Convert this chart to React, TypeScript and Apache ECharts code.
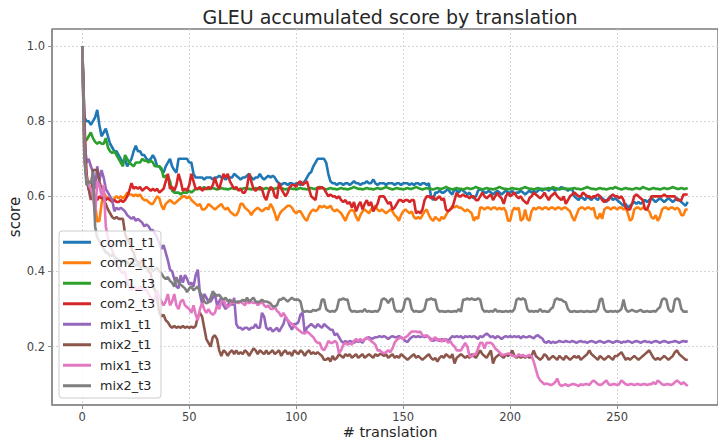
import React, { useEffect, useRef } from "react";
import * as echarts from "echarts";

const seriesNames = ["com1_t1", "com2_t1", "com1_t3", "com2_t3", "mix1_t1", "mix2_t1", "mix1_t3", "mix2_t3"];
const colors = ["#1f77b4", "#ff7f0e", "#2ca02c", "#d62728", "#9467bd", "#8c564b", "#e377c2", "#7f7f7f"];
const xTicks = [0, 50, 100, 150, 200, 250];
const yTicks = [0.2, 0.4, 0.6, 0.8, 1.0];

const com1_t1 = [
  1.00, 0.81, 0.80, 0.80, 0.79, 0.80, 0.81, 0.83, 0.79, 0.76,
  0.77, 0.78, 0.76, 0.74, 0.73, 0.72, 0.72, 0.71, 0.70, 0.69,
  0.70, 0.68, 0.69, 0.70, 0.72, 0.735, 0.72, 0.72, 0.71, 0.71,
  0.70, 0.695, 0.70, 0.71, 0.70, 0.68, 0.68, 0.67, 0.663, 0.68,
  0.69, 0.70, 0.68, 0.67, 0.663, 0.70, 0.70, 0.70, 0.70, 0.70,
  0.69, 0.69, 0.66, 0.65, 0.65, 0.65, 0.65, 0.645, 0.65, 0.65,
  0.65, 0.645, 0.65, 0.65, 0.655, 0.65, 0.65, 0.645, 0.65, 0.65,
  0.65, 0.66, 0.655, 0.65, 0.645, 0.65, 0.65, 0.655, 0.66, 0.65,
  0.645, 0.65, 0.65, 0.66, 0.65, 0.645, 0.65, 0.655, 0.65, 0.655,
  0.65, 0.64, 0.635, 0.63, 0.635, 0.635, 0.63, 0.635, 0.635, 0.63,
  0.635, 0.635, 0.63, 0.635, 0.64, 0.65, 0.66, 0.665, 0.68, 0.69,
  0.70, 0.70, 0.70, 0.70, 0.69, 0.66, 0.64, 0.635, 0.635, 0.63,
  0.635, 0.635, 0.63, 0.635, 0.635, 0.63, 0.635, 0.64, 0.635, 0.635,
  0.63, 0.635, 0.635, 0.64, 0.635, 0.635, 0.645, 0.635, 0.63, 0.635,
  0.635, 0.635, 0.63, 0.635, 0.635, 0.635, 0.63, 0.635, 0.635, 0.63,
  0.635, 0.635, 0.635, 0.63, 0.635, 0.63, 0.635, 0.635, 0.63, 0.635,
  0.635, 0.63, 0.635, 0.60, 0.59, 0.61, 0.61, 0.615, 0.61, 0.61,
  0.615, 0.62, 0.61, 0.605, 0.62, 0.615, 0.61, 0.62, 0.615, 0.61,
  0.605, 0.61, 0.60, 0.595, 0.60, 0.615, 0.62, 0.615, 0.61, 0.61,
  0.615, 0.61, 0.605, 0.61, 0.615, 0.61, 0.605, 0.61, 0.615, 0.61,
  0.61, 0.615, 0.605, 0.61, 0.61, 0.615, 0.61, 0.605, 0.61, 0.615,
  0.61, 0.615, 0.61, 0.615, 0.62, 0.615, 0.62, 0.62, 0.615, 0.62,
  0.62, 0.615, 0.62, 0.62, 0.625, 0.62, 0.62, 0.615, 0.62, 0.62,
  0.60, 0.595, 0.59, 0.60, 0.595, 0.59, 0.60, 0.595, 0.59, 0.60,
  0.595, 0.59, 0.60, 0.595, 0.59, 0.585, 0.595, 0.60, 0.59, 0.595,
  0.59, 0.585, 0.58, 0.575, 0.58, 0.57, 0.575, 0.58, 0.585, 0.58,
  0.585, 0.58, 0.585, 0.59, 0.585, 0.59, 0.595, 0.59, 0.585, 0.59,
  0.595, 0.59, 0.585, 0.59, 0.595, 0.59, 0.585, 0.59, 0.595, 0.59,
  0.585, 0.58, 0.575, 0.585,
];

const com2_t1 = [
  1.00, 0.70, 0.65, 0.62, 0.61, 0.60, 0.58, 0.533, 0.535, 0.58,
  0.61, 0.60, 0.595, 0.59, 0.59, 0.595, 0.60, 0.595, 0.60, 0.595,
  0.60, 0.61, 0.605, 0.605, 0.60, 0.605, 0.60, 0.605, 0.595, 0.59,
  0.59, 0.585, 0.58, 0.58, 0.59, 0.60, 0.595, 0.575, 0.565, 0.58,
  0.585, 0.59, 0.585, 0.58, 0.585, 0.59, 0.595, 0.60, 0.60, 0.595,
  0.60, 0.59, 0.585, 0.58, 0.575, 0.58, 0.565, 0.565, 0.57, 0.58,
  0.575, 0.57, 0.565, 0.57, 0.575, 0.58, 0.57, 0.565, 0.57, 0.56,
  0.555, 0.55, 0.55, 0.56, 0.58, 0.58, 0.57, 0.565, 0.56, 0.55,
  0.56, 0.565, 0.57, 0.565, 0.56, 0.565, 0.57, 0.565, 0.58, 0.57,
  0.555, 0.535, 0.55, 0.56, 0.565, 0.57, 0.575, 0.575, 0.57, 0.56,
  0.555, 0.56, 0.56, 0.55, 0.54, 0.535, 0.55, 0.56, 0.565, 0.56,
  0.565, 0.575, 0.57, 0.575, 0.57, 0.57, 0.575, 0.565, 0.56, 0.565,
  0.56, 0.555, 0.545, 0.535, 0.55, 0.56, 0.565, 0.56, 0.545, 0.535,
  0.55, 0.56, 0.565, 0.56, 0.555, 0.565, 0.57, 0.575, 0.565, 0.56,
  0.565, 0.56, 0.555, 0.56, 0.565, 0.56, 0.55, 0.545, 0.535, 0.55,
  0.56, 0.565, 0.56, 0.555, 0.56, 0.545, 0.54, 0.545, 0.54, 0.55,
  0.56, 0.565, 0.55, 0.54, 0.535, 0.545, 0.54, 0.535, 0.545, 0.54,
  0.55, 0.56, 0.565, 0.575, 0.57, 0.575, 0.57, 0.57, 0.565, 0.56,
  0.565, 0.56, 0.555, 0.535, 0.545, 0.54, 0.57, 0.57, 0.565, 0.57,
  0.57, 0.565, 0.57, 0.57, 0.565, 0.57, 0.565, 0.57, 0.56, 0.535,
  0.535, 0.56, 0.57, 0.565, 0.57, 0.535, 0.54, 0.565, 0.54, 0.535,
  0.56, 0.57, 0.565, 0.57, 0.57, 0.565, 0.57, 0.57, 0.565, 0.57,
  0.57, 0.565, 0.57, 0.57, 0.565, 0.57, 0.57, 0.565, 0.56, 0.545,
  0.535, 0.55, 0.565, 0.57, 0.57, 0.565, 0.57, 0.57, 0.565, 0.57,
  0.545, 0.54, 0.555, 0.54, 0.565, 0.57, 0.57, 0.565, 0.57, 0.57,
  0.565, 0.57, 0.57, 0.565, 0.57, 0.555, 0.535, 0.54, 0.565, 0.57,
  0.57, 0.565, 0.57, 0.57, 0.565, 0.56, 0.545, 0.54, 0.55, 0.535,
  0.545, 0.565, 0.57, 0.57, 0.565, 0.57, 0.57, 0.565, 0.57, 0.565,
  0.55, 0.55, 0.565, 0.565,
];

const com1_t3 = [
  1.00, 0.75, 0.75, 0.76, 0.77, 0.755, 0.745, 0.74, 0.745, 0.74,
  0.74, 0.755, 0.73, 0.72, 0.715, 0.72, 0.71, 0.70, 0.69, 0.68,
  0.71, 0.70, 0.69, 0.685, 0.68, 0.69, 0.69, 0.69, 0.70, 0.695,
  0.695, 0.69, 0.695, 0.69, 0.68, 0.68, 0.68, 0.675, 0.65, 0.655,
  0.655, 0.64, 0.615, 0.61, 0.61, 0.61, 0.605, 0.61, 0.61, 0.61,
  0.615, 0.61, 0.615, 0.62, 0.62, 0.62, 0.62, 0.625, 0.62, 0.62,
  0.62, 0.622, 0.62, 0.618, 0.62, 0.622, 0.62, 0.62, 0.618, 0.62,
  0.622, 0.62, 0.62, 0.618, 0.62, 0.62, 0.622, 0.62, 0.62, 0.618,
  0.62, 0.622, 0.62, 0.618, 0.62, 0.62, 0.622, 0.62, 0.618, 0.62,
  0.62, 0.622, 0.625, 0.622, 0.62, 0.618, 0.62, 0.622, 0.62, 0.62,
  0.618, 0.62, 0.622, 0.62, 0.62, 0.618, 0.62, 0.622, 0.62, 0.62,
  0.622, 0.625, 0.622, 0.62, 0.618, 0.62, 0.622, 0.62, 0.62, 0.618,
  0.62, 0.622, 0.62, 0.62, 0.618, 0.62, 0.622, 0.625, 0.622, 0.62,
  0.62, 0.618, 0.62, 0.622, 0.62, 0.62, 0.618, 0.62, 0.622, 0.62,
  0.62, 0.622, 0.625, 0.622, 0.62, 0.618, 0.62, 0.622, 0.62, 0.62,
  0.618, 0.62, 0.622, 0.62, 0.62, 0.622, 0.625, 0.622, 0.62, 0.618,
  0.62, 0.622, 0.62, 0.62, 0.618, 0.62, 0.622, 0.62, 0.62, 0.622,
  0.625, 0.622, 0.62, 0.618, 0.62, 0.622, 0.62, 0.62, 0.618, 0.62,
  0.622, 0.62, 0.62, 0.622, 0.625, 0.622, 0.62, 0.618, 0.62, 0.622,
  0.62, 0.62, 0.618, 0.62, 0.622, 0.625, 0.622, 0.62, 0.62, 0.618,
  0.62, 0.622, 0.62, 0.62, 0.618, 0.62, 0.622, 0.625, 0.622, 0.62,
  0.62, 0.618, 0.62, 0.622, 0.62, 0.62, 0.618, 0.62, 0.622, 0.62,
  0.625, 0.622, 0.62, 0.618, 0.62, 0.622, 0.62, 0.62, 0.618, 0.62,
  0.622, 0.62, 0.62, 0.618, 0.62, 0.622, 0.625, 0.622, 0.62, 0.62,
  0.618, 0.62, 0.622, 0.62, 0.62, 0.618, 0.62, 0.622, 0.62, 0.625,
  0.622, 0.62, 0.618, 0.62, 0.622, 0.62, 0.62, 0.618, 0.62, 0.622,
  0.62, 0.62, 0.625, 0.622, 0.62, 0.618, 0.62, 0.622, 0.62, 0.62,
  0.618, 0.62, 0.622, 0.62, 0.62, 0.622, 0.625, 0.622, 0.62, 0.62,
  0.622, 0.62, 0.62, 0.622,
];

const com2_t3 = [
  1.00, 0.80, 0.66, 0.62, 0.60, 0.605, 0.60, 0.59, 0.60, 0.595,
  0.60, 0.59, 0.595, 0.59, 0.585, 0.59, 0.585, 0.585, 0.59, 0.585,
  0.59, 0.60, 0.615, 0.635, 0.62, 0.625, 0.62, 0.625, 0.615, 0.62,
  0.625, 0.62, 0.615, 0.62, 0.615, 0.62, 0.61, 0.615, 0.62, 0.64,
  0.66, 0.62, 0.625, 0.615, 0.63, 0.66, 0.64, 0.615, 0.62, 0.615,
  0.63, 0.66, 0.64, 0.62, 0.62, 0.625, 0.615, 0.62, 0.62, 0.625,
  0.62, 0.63, 0.65, 0.63, 0.62, 0.64, 0.66, 0.65, 0.66, 0.64,
  0.63, 0.62, 0.625, 0.615, 0.62, 0.61, 0.61, 0.625, 0.66, 0.64,
  0.62, 0.615, 0.62, 0.625, 0.62, 0.60, 0.59, 0.61, 0.625, 0.62,
  0.60, 0.595, 0.636, 0.62, 0.61, 0.60, 0.61, 0.625, 0.63, 0.63,
  0.625, 0.636, 0.64, 0.63, 0.636, 0.64, 0.62, 0.60, 0.595, 0.59,
  0.625, 0.62, 0.625, 0.62, 0.61, 0.60, 0.605, 0.60, 0.60, 0.595,
  0.60, 0.59, 0.585, 0.59, 0.58, 0.585, 0.57, 0.585, 0.56, 0.575,
  0.585, 0.565, 0.58, 0.59, 0.575, 0.585, 0.56, 0.57, 0.58, 0.60,
  0.60, 0.60, 0.59, 0.58, 0.585, 0.565, 0.57, 0.58, 0.59, 0.59,
  0.585, 0.59, 0.59, 0.585, 0.59, 0.59, 0.555, 0.56, 0.555, 0.565,
  0.59, 0.60, 0.60, 0.595, 0.60, 0.59, 0.595, 0.60, 0.59, 0.595,
  0.565, 0.56, 0.565, 0.57, 0.59, 0.61, 0.60, 0.60, 0.605, 0.60,
  0.60, 0.595, 0.60, 0.60, 0.59, 0.59, 0.60, 0.61, 0.60, 0.595,
  0.60, 0.605, 0.59, 0.60, 0.61, 0.60, 0.595, 0.58, 0.60, 0.61,
  0.60, 0.605, 0.61, 0.60, 0.595, 0.60, 0.59, 0.585, 0.58, 0.595,
  0.60, 0.61, 0.605, 0.60, 0.595, 0.60, 0.61, 0.60, 0.59, 0.60,
  0.605, 0.61, 0.60, 0.595, 0.59, 0.60, 0.58, 0.59, 0.60, 0.605,
  0.61, 0.605, 0.60, 0.60, 0.61, 0.605, 0.60, 0.60, 0.595, 0.60,
  0.60, 0.605, 0.60, 0.59, 0.585, 0.59, 0.59, 0.60, 0.605, 0.60,
  0.60, 0.595, 0.60, 0.59, 0.57, 0.565, 0.565, 0.58, 0.60, 0.605,
  0.60, 0.595, 0.59, 0.565, 0.565, 0.58, 0.60, 0.60, 0.60, 0.60,
  0.60, 0.60, 0.605, 0.60, 0.60, 0.60, 0.60, 0.60, 0.59, 0.59,
  0.59, 0.605, 0.605, 0.605,
];

const mix1_t1 = [
  1.00, 0.75, 0.69, 0.70, 0.68, 0.665, 0.62, 0.68, 0.64, 0.67,
  0.65, 0.62, 0.61, 0.60, 0.59, 0.56, 0.57, 0.565, 0.57, 0.565,
  0.56, 0.55, 0.545, 0.54, 0.545, 0.535, 0.54, 0.535, 0.53, 0.52,
  0.525, 0.52, 0.51, 0.51, 0.50, 0.49, 0.475, 0.46, 0.47, 0.45,
  0.43, 0.405, 0.40, 0.38, 0.36, 0.355, 0.39, 0.37, 0.39, 0.38,
  0.365, 0.37, 0.36, 0.39, 0.405, 0.34, 0.315, 0.34, 0.33, 0.32,
  0.32, 0.33, 0.34, 0.31, 0.32, 0.33, 0.31, 0.30, 0.31, 0.32,
  0.31, 0.33, 0.26, 0.25, 0.25, 0.245, 0.25, 0.25, 0.245, 0.25,
  0.25, 0.26, 0.25, 0.25, 0.29, 0.28, 0.25, 0.245, 0.25, 0.24,
  0.245, 0.25, 0.24, 0.25, 0.26, 0.28, 0.27, 0.255, 0.245, 0.26,
  0.26, 0.265, 0.285, 0.29, 0.236, 0.25, 0.255, 0.26, 0.255, 0.25,
  0.26, 0.255, 0.25, 0.26, 0.255, 0.25, 0.245, 0.245, 0.23, 0.235,
  0.225, 0.215, 0.21, 0.215, 0.21, 0.215, 0.213, 0.21, 0.215, 0.213,
  0.215, 0.21, 0.22, 0.222, 0.225, 0.22, 0.222, 0.225, 0.225, 0.228,
  0.225, 0.228, 0.225, 0.22, 0.225, 0.228, 0.225, 0.225, 0.228, 0.225,
  0.22, 0.215, 0.212, 0.22, 0.225, 0.228, 0.225, 0.228, 0.225, 0.228,
  0.225, 0.228, 0.225, 0.22, 0.215, 0.218, 0.22, 0.215, 0.22, 0.215,
  0.22, 0.215, 0.222, 0.228, 0.225, 0.228, 0.225, 0.228, 0.222, 0.228,
  0.225, 0.228, 0.225, 0.228, 0.225, 0.22, 0.228, 0.225, 0.23, 0.235,
  0.23, 0.225, 0.228, 0.222, 0.228, 0.225, 0.22, 0.225, 0.228, 0.225,
  0.228, 0.225, 0.228, 0.225, 0.228, 0.222, 0.228, 0.225, 0.225, 0.228,
  0.225, 0.222, 0.228, 0.23, 0.225, 0.222, 0.212, 0.21, 0.215, 0.209,
  0.213, 0.21, 0.212, 0.215, 0.213, 0.212, 0.215, 0.213, 0.212, 0.215,
  0.213, 0.21, 0.213, 0.215, 0.212, 0.213, 0.21, 0.213, 0.215, 0.213,
  0.21, 0.213, 0.215, 0.212, 0.21, 0.213, 0.215, 0.213, 0.21, 0.213,
  0.215, 0.213, 0.21, 0.213, 0.212, 0.215, 0.213, 0.21, 0.213, 0.215,
  0.213, 0.21, 0.213, 0.215, 0.212, 0.213, 0.21, 0.213, 0.215, 0.213,
  0.21, 0.213, 0.215, 0.213, 0.21, 0.212, 0.213, 0.215, 0.213, 0.21,
  0.213, 0.215, 0.213, 0.215,
];

const mix2_t1 = [
  1.00, 0.75, 0.64, 0.62, 0.59, 0.67, 0.67, 0.67, 0.64, 0.62,
  0.59, 0.58, 0.565, 0.555, 0.545, 0.54, 0.545, 0.54, 0.54, 0.54,
  0.50, 0.485, 0.48, 0.46, 0.45, 0.43, 0.425, 0.42, 0.43, 0.415,
  0.41, 0.40, 0.395, 0.36, 0.35, 0.33, 0.29, 0.28, 0.285, 0.27,
  0.265, 0.255, 0.25, 0.255, 0.25, 0.253, 0.25, 0.255, 0.25, 0.253,
  0.25, 0.253, 0.25, 0.255, 0.28, 0.29, 0.28, 0.25, 0.22, 0.21,
  0.20, 0.225, 0.23, 0.22, 0.19, 0.175, 0.19, 0.185, 0.175, 0.185,
  0.19, 0.18, 0.19, 0.18, 0.185, 0.18, 0.19, 0.185, 0.175, 0.185,
  0.195, 0.19, 0.18, 0.19, 0.185, 0.18, 0.19, 0.18, 0.185, 0.19,
  0.18, 0.185, 0.19, 0.175, 0.185, 0.19, 0.18, 0.185, 0.175, 0.19,
  0.185, 0.18, 0.19, 0.185, 0.175, 0.185, 0.19, 0.18, 0.185, 0.18,
  0.185, 0.18, 0.175, 0.165, 0.165, 0.17, 0.16, 0.175, 0.165, 0.17,
  0.18, 0.175, 0.17, 0.18, 0.175, 0.18, 0.17, 0.175, 0.18, 0.17,
  0.175, 0.18, 0.17, 0.175, 0.18, 0.175, 0.17, 0.18, 0.175, 0.18,
  0.18, 0.175, 0.18, 0.17, 0.175, 0.18, 0.17, 0.175, 0.17, 0.18,
  0.175, 0.17, 0.165, 0.17, 0.175, 0.18, 0.17, 0.175, 0.17, 0.165,
  0.17, 0.175, 0.18, 0.17, 0.165, 0.17, 0.16, 0.17, 0.175, 0.17,
  0.18, 0.175, 0.17, 0.18, 0.155, 0.17, 0.175, 0.18, 0.175, 0.17,
  0.175, 0.17, 0.18, 0.175, 0.17, 0.18, 0.19, 0.18, 0.175, 0.17,
  0.18, 0.19, 0.155, 0.17, 0.175, 0.18, 0.175, 0.17, 0.18, 0.175,
  0.18, 0.19, 0.175, 0.17, 0.175, 0.17, 0.175, 0.17, 0.175, 0.17,
  0.175, 0.19, 0.175, 0.17, 0.165, 0.17, 0.18, 0.175, 0.165, 0.17,
  0.175, 0.17, 0.165, 0.175, 0.17, 0.165, 0.175, 0.17, 0.165, 0.17,
  0.175, 0.17, 0.175, 0.165, 0.17, 0.175, 0.18, 0.19, 0.18, 0.175,
  0.17, 0.165, 0.175, 0.17, 0.165, 0.17, 0.175, 0.17, 0.165, 0.175,
  0.175, 0.18, 0.185, 0.175, 0.165, 0.17, 0.165, 0.17, 0.175, 0.17,
  0.165, 0.17, 0.175, 0.18, 0.185, 0.19, 0.18, 0.17, 0.165, 0.17,
  0.165, 0.17, 0.175, 0.17, 0.165, 0.17, 0.175, 0.185, 0.19, 0.18,
  0.175, 0.17, 0.165, 0.165,
];

const mix1_t3 = [
  1.00, 0.70, 0.645, 0.63, 0.62, 0.60, 0.55, 0.64, 0.63, 0.60,
  0.63, 0.52, 0.49, 0.47, 0.455, 0.44, 0.42, 0.41, 0.40, 0.395,
  0.40, 0.37, 0.36, 0.35, 0.36, 0.355, 0.35, 0.36, 0.355, 0.35,
  0.352, 0.34, 0.33, 0.32, 0.33, 0.35, 0.33, 0.32, 0.31, 0.32,
  0.34, 0.31, 0.32, 0.34, 0.31, 0.30, 0.32, 0.325, 0.31, 0.305,
  0.30, 0.29, 0.31, 0.285, 0.27, 0.30, 0.316, 0.30, 0.29, 0.30,
  0.29, 0.285, 0.29, 0.31, 0.30, 0.32, 0.325, 0.31, 0.305, 0.31,
  0.32, 0.315, 0.32, 0.315, 0.32, 0.315, 0.31, 0.32, 0.315, 0.32,
  0.315, 0.32, 0.31, 0.315, 0.32, 0.31, 0.305, 0.31, 0.30, 0.30,
  0.305, 0.295, 0.29, 0.28, 0.29, 0.28, 0.27, 0.265, 0.26, 0.255,
  0.25, 0.245, 0.24, 0.236, 0.235, 0.24, 0.236, 0.23, 0.225, 0.215,
  0.21, 0.21, 0.195, 0.19, 0.20, 0.215, 0.21, 0.21, 0.215, 0.21,
  0.182, 0.19, 0.205, 0.21, 0.205, 0.21, 0.205, 0.215, 0.22, 0.215,
  0.22, 0.215, 0.218, 0.225, 0.22, 0.215, 0.21, 0.205, 0.19, 0.19,
  0.185, 0.182, 0.185, 0.19, 0.185, 0.195, 0.21, 0.218, 0.222, 0.225,
  0.22, 0.225, 0.228, 0.235, 0.24, 0.24, 0.24, 0.238, 0.24, 0.23,
  0.228, 0.23, 0.225, 0.215, 0.22, 0.225, 0.215, 0.22, 0.213, 0.22,
  0.218, 0.21, 0.215, 0.205, 0.20, 0.19, 0.19, 0.19, 0.20, 0.21,
  0.20, 0.175, 0.173, 0.18, 0.18, 0.195, 0.21, 0.21, 0.195, 0.21,
  0.21, 0.21, 0.205, 0.195, 0.19, 0.185, 0.178, 0.178, 0.18, 0.182,
  0.18, 0.175, 0.175, 0.173, 0.18, 0.175, 0.178, 0.173, 0.175, 0.178,
  0.175, 0.16, 0.14, 0.12, 0.11, 0.105, 0.10, 0.102, 0.10, 0.098,
  0.10, 0.105, 0.115, 0.10, 0.095, 0.098, 0.10, 0.095, 0.098, 0.10,
  0.10, 0.098, 0.095, 0.10, 0.098, 0.10, 0.10, 0.098, 0.105, 0.11,
  0.105, 0.10, 0.098, 0.10, 0.105, 0.11, 0.10, 0.098, 0.10, 0.10,
  0.098, 0.10, 0.11, 0.105, 0.10, 0.098, 0.10, 0.10, 0.098, 0.10,
  0.10, 0.098, 0.10, 0.10, 0.098, 0.10, 0.10, 0.105, 0.10, 0.11,
  0.105, 0.10, 0.098, 0.10, 0.10, 0.098, 0.10, 0.105, 0.11, 0.105,
  0.10, 0.105, 0.10, 0.095,
];

const mix2_t3 = [
  1.00, 0.70, 0.63, 0.64, 0.635, 0.665, 0.52, 0.49, 0.48, 0.47,
  0.46, 0.45, 0.45, 0.44, 0.445, 0.44, 0.435, 0.43, 0.43, 0.425,
  0.43, 0.425, 0.42, 0.425, 0.42, 0.415, 0.42, 0.41, 0.415, 0.41,
  0.41, 0.405, 0.41, 0.40, 0.405, 0.41, 0.40, 0.395, 0.385, 0.38,
  0.385, 0.375, 0.37, 0.36, 0.385, 0.37, 0.365, 0.36, 0.355, 0.345,
  0.355, 0.36, 0.35, 0.355, 0.36, 0.345, 0.335, 0.32, 0.315, 0.318,
  0.33, 0.347, 0.34, 0.335, 0.338, 0.33, 0.325, 0.33, 0.32, 0.325,
  0.32, 0.32, 0.318, 0.32, 0.32, 0.325, 0.32, 0.33, 0.32, 0.325,
  0.33, 0.32, 0.318, 0.32, 0.325, 0.32, 0.32, 0.318, 0.315, 0.307,
  0.307, 0.31, 0.325, 0.325, 0.33, 0.325, 0.32, 0.325, 0.33, 0.325,
  0.325, 0.325, 0.32, 0.295, 0.293, 0.295, 0.293, 0.293, 0.298, 0.295,
  0.298, 0.30, 0.325, 0.325, 0.30, 0.295, 0.293, 0.295, 0.293, 0.30,
  0.325, 0.325, 0.328, 0.325, 0.325, 0.30, 0.293, 0.295, 0.293, 0.293,
  0.295, 0.293, 0.30, 0.293, 0.295, 0.293, 0.293, 0.295, 0.293, 0.30,
  0.325, 0.328, 0.325, 0.316, 0.325, 0.328, 0.30, 0.293, 0.295, 0.293,
  0.30, 0.325, 0.328, 0.325, 0.30, 0.293, 0.295, 0.293, 0.293, 0.295,
  0.30, 0.325, 0.325, 0.328, 0.325, 0.325, 0.30, 0.293, 0.295, 0.293,
  0.293, 0.295, 0.293, 0.293, 0.295, 0.293, 0.30, 0.293, 0.325, 0.325,
  0.328, 0.325, 0.328, 0.325, 0.325, 0.328, 0.325, 0.30, 0.293, 0.295,
  0.293, 0.295, 0.293, 0.30, 0.293, 0.295, 0.293, 0.293, 0.295, 0.293,
  0.295, 0.293, 0.30, 0.325, 0.328, 0.325, 0.328, 0.325, 0.30, 0.293,
  0.295, 0.293, 0.295, 0.293, 0.30, 0.293, 0.295, 0.293, 0.293, 0.30,
  0.305, 0.325, 0.328, 0.325, 0.325, 0.32, 0.318, 0.30, 0.293, 0.293,
  0.295, 0.293, 0.293, 0.295, 0.293, 0.293, 0.295, 0.293, 0.293, 0.295,
  0.293, 0.30, 0.325, 0.328, 0.30, 0.293, 0.293, 0.295, 0.293, 0.295,
  0.293, 0.295, 0.30, 0.325, 0.30, 0.293, 0.295, 0.298, 0.295, 0.293,
  0.295, 0.298, 0.293, 0.293, 0.295, 0.293, 0.293, 0.295, 0.293, 0.30,
  0.305, 0.325, 0.328, 0.325, 0.30, 0.293, 0.295, 0.325, 0.328, 0.325,
  0.30, 0.293, 0.293, 0.293,
];

const seriesValues = [com1_t1, com2_t1, com1_t3, com2_t3, mix1_t1, mix2_t1, mix1_t3, mix2_t3];

const FONT = "DejaVu Sans";

export default function App() {
  const ref = useRef<HTMLDivElement>(null);
  useEffect(() => {
    if (!ref.current) return;
    const chart = echarts.init(ref.current, undefined, { renderer: "svg" });
    const option: any = {
      animation: false,
      backgroundColor: "#ffffff",
      grid: {
        left: 52,
        top: 29,
        right: -10,
        bottom: 35,
        show: true,
        borderColor: "#3a3a3a",
        borderWidth: 1,
        backgroundColor: "transparent",
      },
      xAxis: {
        type: "value",
        min: -14.15,
        max: 297.15,
        axisLine: { show: true, onZero: false, lineStyle: { color: "#8f8f8f", width: 1.6 } },
        axisTick: { show: true, length: 4, inside: false, customValues: xTicks, lineStyle: { color: "#8f8f8f", width: 1 } },
        axisLabel: {
          customValues: xTicks,
          margin: 6,
          color: "#444",
          fontSize: 11.5,
          fontFamily: FONT,
          formatter: (v: number) => String(Math.round(v)),
        },
        splitLine: { show: true, lineStyle: { color: "#d4d4d4", width: 1, type: [2, 2] } },
      },
      yAxis: {
        type: "value",
        min: 0.0445,
        max: 1.0455,
        axisLine: { show: true, onZero: false, lineStyle: { color: "#8f8f8f", width: 1.6 } },
        axisTick: { show: true, length: 4, inside: false, customValues: yTicks, lineStyle: { color: "#8f8f8f", width: 1 } },
        axisLabel: {
          customValues: yTicks,
          margin: 7,
          color: "#444",
          fontSize: 11.5,
          fontFamily: FONT,
          formatter: (v: number) => v.toFixed(1),
        },
        splitLine: { show: true, lineStyle: { color: "#d4d4d4", width: 1, type: [2, 2] } },
      },
      legend: {
        show: true,
        orient: "vertical",
        left: 59,
        top: 231,
        padding: [1, 6, 2, 4],
        itemGap: 0,
        itemWidth: 28,
        itemHeight: 3,
        icon: "rect",
        selectedMode: false,
        backgroundColor: "rgba(255,255,255,0.8)",
        borderColor: "#cccccc",
        borderWidth: 1,
        borderRadius: 3,
        data: seriesNames,
        textStyle: {
          fontFamily: FONT,
          fontSize: 12.8,
          color: "#262626",
          lineHeight: 20.5,
          padding: [0, 0, 0, 4],
        },
      },
      graphic: [
        {
          type: "text",
          x: 390,
          y: 17,
          style: {
            text: "GLEU accumulated score by translation",
            fontFamily: FONT,
            fontSize: 19,
            fill: "#262626",
            textAlign: "center",
            textVerticalAlign: "middle",
          },
        },
        {
          type: "text",
          x: 390,
          y: 431.8,
          style: {
            text: "# translation",
            fontFamily: FONT,
            fontSize: 14.5,
            fill: "#262626",
            textAlign: "center",
            textVerticalAlign: "middle",
          },
        },
        {
          type: "text",
          x: 15,
          y: 217,
          rotation: Math.PI / 2,
          style: {
            text: "score",
            fontFamily: FONT,
            fontSize: 15,
            fill: "#262626",
            textAlign: "center",
            textVerticalAlign: "middle",
          },
        },
      ],
      series: seriesNames.map((name, i) => ({
        name,
        type: "line",
        data: seriesValues[i].map((v, x) => [x, v]),
        showSymbol: false,
        symbol: "none",
        silent: true,
        color: colors[i],
        lineStyle: { color: colors[i], width: 2.6 },
        emphasis: { disabled: true },
      })),
    };
    chart.setOption(option);
    return () => chart.dispose();
  }, []);
  return (
    <div
      ref={ref}
      style={{ position: "fixed", left: 0, top: 0, width: 718, height: 440, background: "#fff" }}
    />
  );
}
